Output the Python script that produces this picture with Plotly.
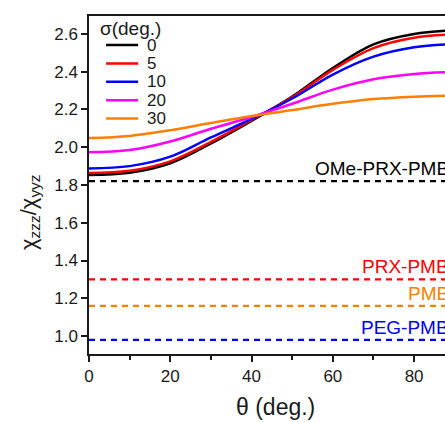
import plotly.graph_objects as go

# Polar tilt angle theta (deg.)
theta = [0, 10, 20, 30, 40, 50, 60, 70, 80, 90]

# chi_zzz / chi_yyz ratio for each distribution width sigma (deg.)
sigma_labels = ["0", "5", "10", "20", "30"]
ratio_s0 = [1.853, 1.865, 1.915, 2.020, 2.140, 2.268, 2.420, 2.545, 2.600, 2.620]
ratio_s5 = [1.863, 1.875, 1.925, 2.028, 2.145, 2.265, 2.410, 2.525, 2.580, 2.598]
ratio_s10 = [1.888, 1.900, 1.950, 2.052, 2.150, 2.258, 2.385, 2.480, 2.530, 2.547]
ratio_s20 = [1.973, 1.985, 2.030, 2.098, 2.160, 2.230, 2.305, 2.360, 2.388, 2.398]
ratio_s30 = [2.049, 2.060, 2.090, 2.128, 2.165, 2.197, 2.230, 2.255, 2.268, 2.274]
curve_colors = ["#000000", "#ff0000", "#0000ff", "#ff00ff", "#ff8000"]

# Measured ratios for each sample (horizontal reference levels)
sample_names = ["OMe-PRX-PMB", "PRX-PMB", "PMB", "PEG-PMB"]
sample_ratio = [1.82, 1.30, 1.16, 0.98]
sample_colors = ["#000000", "#ff0000", "#ff8000", "#0000ff"]

FONT = "Liberation Sans, Arial, sans-serif"
INK = "#1a1a1a"

fig = go.Figure()

for name, ys, col in zip(sigma_labels,
                         [ratio_s0, ratio_s5, ratio_s10, ratio_s20, ratio_s30],
                         curve_colors):
    fig.add_trace(go.Scatter(x=theta, y=ys, mode="lines", name=name,
                             line=dict(color=col, width=2.5, shape="spline"),
                             showlegend=False))

for name, val, col in zip(sample_names, sample_ratio, sample_colors):
    fig.add_trace(go.Scatter(x=[theta[0], theta[-1]], y=[val, val], mode="lines",
                             name=name, showlegend=False,
                             line=dict(color=col, width=2.2, dash="6px,5px")))
    fig.add_annotation(x=1.0, xref="paper", y=val, yref="y",
                       xanchor="right", yanchor="bottom", xshift=6, yshift=0,
                       text=name, showarrow=False,
                       font=dict(family=FONT, size=19, color=col))

# Legend block for sigma, drawn in paper coordinates
leg_x0, leg_x1, leg_tx = 0.048, 0.138, 0.157
leg_top, leg_step = 0.914, 0.0543
fig.add_annotation(x=0.026, y=0.962, xref="paper", yref="paper",
                   xanchor="left", yanchor="middle", showarrow=False,
                   text="σ(deg.)", font=dict(family=FONT, size=19, color=INK))
for i, (name, col) in enumerate(zip(sigma_labels, curve_colors)):
    yy = leg_top - i * leg_step
    fig.add_shape(type="line", xref="paper", yref="paper",
                  x0=leg_x0, x1=leg_x1, y0=yy, y1=yy,
                  line=dict(color=col, width=2.5))
    fig.add_annotation(x=leg_tx, y=yy, xref="paper", yref="paper",
                       xanchor="left", yanchor="middle", showarrow=False,
                       text=name, font=dict(family=FONT, size=17, color=INK))

# Axis titles
fig.add_annotation(x=0.525, y=-0.157, xref="paper", yref="paper",
                   xanchor="center", yanchor="middle", showarrow=False,
                   text="θ (deg.)", font=dict(family=FONT, size=23, color=INK))
fig.add_annotation(x=-0.166, y=0.42, xref="paper", yref="paper",
                   xanchor="center", yanchor="middle", showarrow=False,
                   textangle=-90,
                   text="χ<sub>zzz</sub>/χ<sub>yyz</sub>",
                   font=dict(family=FONT, size=22, color=INK))

fig.update_xaxes(range=[0, 87.6], tickvals=[0, 20, 40, 60, 80],
                 ticks="outside", ticklen=6, tickwidth=1.5, tickcolor=INK,
                 showline=True, linewidth=1.5, linecolor=INK, mirror=True,
                 showgrid=False, zeroline=False,
                 minor=dict(dtick=10, tick0=0, ticks="outside", ticklen=4,
                            tickwidth=1.5, tickcolor=INK, showgrid=False),
                 tickfont=dict(family=FONT, size=17, color=INK))
fig.update_yaxes(range=[0.905, 2.695], tickvals=[1.0, 1.2, 1.4, 1.6, 1.8, 2.0, 2.2, 2.4, 2.6],
                 ticktext=["1.0", "1.2", "1.4", "1.6", "1.8", "2.0", "2.2", "2.4", "2.6"],
                 ticks="outside", ticklen=6, tickwidth=1.5, tickcolor=INK,
                 showline=True, linewidth=1.5, linecolor=INK, mirror=False,
                 showgrid=False, zeroline=False,
                 tickfont=dict(family=FONT, size=17, color=INK))

fig.update_layout(width=445, height=422,
                  margin=dict(l=89, r=0, t=16, b=68),
                  plot_bgcolor="white", paper_bgcolor="white",
                  font=dict(family=FONT, color=INK))

fig.write_html("out.html")
